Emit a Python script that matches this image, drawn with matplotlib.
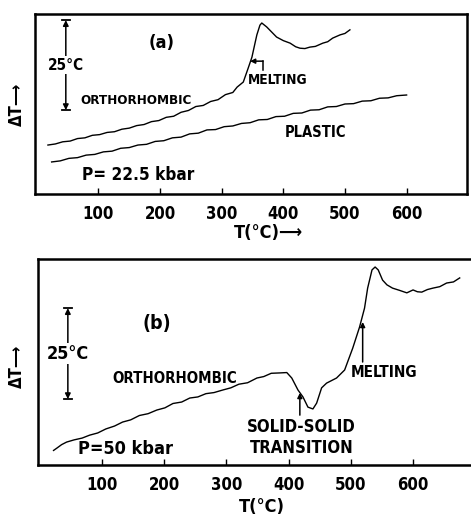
import matplotlib.pyplot as plt

plt.rcParams['font.family'] = ['DejaVu Sans Condensed', 'DejaVu Sans']
plt.rcParams['font.stretch'] = 'condensed'
plt.rcParams['font.weight'] = 'bold'

# panel (a), P = 22.5 kbar
a_ortho_T = [18, 30, 42, 54, 66, 78, 90, 102, 114, 126, 138, 150, 162, 174,
             186, 198, 210, 222, 234, 246, 258, 270, 282, 294, 306, 318, 325,
             335, 343, 349, 354, 357, 362, 365, 373, 389, 400, 411, 420, 427,
             435, 443, 452, 464, 472, 480, 492, 500, 508]
a_ortho_y = [13.6, 13.9, 14.5, 14.7, 15.4, 15.6, 16.3, 16.5, 17.1, 17.3,
             18.0, 18.3, 19.0, 19.3, 20.1, 20.4, 21.3, 21.6, 22.7, 23.2,
             24.3, 24.6, 25.7, 26.2, 27.6, 28.2, 29.7, 31.1, 35.0, 38.0,
             41.9, 44.2, 46.9, 47.5, 46.4, 43.6, 42.6, 41.9, 40.9, 40.5,
             40.4, 40.8, 41.0, 41.9, 42.3, 43.3, 44.2, 44.6, 45.6]
a_plast_T = [24, 38, 52, 66, 80, 94, 108, 122, 136, 150, 164, 178, 192, 206,
             220, 234, 248, 262, 276, 290, 304, 318, 332, 346, 360, 374, 388,
             402, 416, 430, 444, 458, 472, 486, 500, 514, 528, 542, 556, 570,
             584, 600]
a_plast_y = [8.9, 9.2, 9.9, 10.1, 10.8, 11.0, 11.7, 11.9, 12.7, 12.9, 13.6,
             13.8, 14.6, 14.8, 15.6, 15.8, 16.7, 16.9, 17.8, 17.9, 18.7, 18.9,
             19.6, 19.8, 20.6, 20.7, 21.5, 21.6, 22.4, 22.5, 23.3, 23.4, 24.2,
             24.3, 25.0, 25.1, 25.8, 25.9, 26.6, 26.7, 27.3, 27.5]

# panel (b), P = 50 kbar
b_T = [22, 27, 35, 43, 55, 68, 80, 93, 106, 120, 133, 146, 160, 174, 188,
       201, 214, 228, 241, 254, 267, 280, 294, 307, 320, 334, 349, 360, 372,
       386, 397, 405, 415, 423, 431, 439, 445, 453, 461, 477, 490, 503, 514,
       522, 527, 534, 539, 544, 551, 558, 567, 578, 590, 600, 607, 614, 623,
       632, 643, 654, 665, 675]
b_y = [4.0, 4.6, 5.6, 6.3, 6.9, 7.4, 8.2, 8.8, 9.9, 10.7, 11.8, 12.4, 13.6,
       14.1, 15.1, 15.7, 16.9, 17.3, 18.4, 18.7, 19.6, 19.9, 20.6, 21.2,
       22.2, 22.6, 23.9, 24.3, 25.2, 25.3, 25.4, 23.9, 20.6, 18.7, 15.9,
       15.4, 17.0, 21.2, 22.5, 23.9, 26.1, 32.1, 37.9, 43.1, 48.6, 53.6,
       54.4, 53.6, 50.8, 49.5, 48.6, 48.0, 47.3, 48.1, 47.6, 47.5, 48.2,
       48.6, 49.0, 50.0, 50.3, 51.4]

ticks = [100, 200, 300, 400, 500, 600]

fig = plt.figure(figsize=(4.71, 5.17), dpi=100)
ax_a = fig.add_axes([35 / 471, 1 - 194 / 517, 432 / 471, 180 / 517])
ax_b = fig.add_axes([38 / 471, 1 - 465 / 517, 436 / 471, 206 / 517])

for ax, ymax in ((ax_a, 50), (ax_b, 56.6)):
    ax.set_xlim(-3, 698)
    ax.set_ylim(0, ymax)
    ax.set_xticks(ticks)
    ax.set_xticklabels([str(t) for t in ticks], fontsize=12, fontweight='bold')
    ax.set_yticks([])
    ax.tick_params(axis='x', direction='in', length=4, width=1, pad=8)
    for s in ax.spines.values():
        s.set_linewidth(1.8)


def label(ax, x, y, s, size):
    ax.text(x, y, s, fontsize=size, fontweight='bold', va='center', ha='left')


def scale_bar(ax, x, y0, y1, size):
    ax.annotate('', xy=(x, y1), xytext=(x, y0),
                arrowprops=dict(arrowstyle='<|-|>', lw=1.1, color='k',
                                mutation_scale=8, shrinkA=0, shrinkB=0))
    ax.plot([x - 6, x + 6], [y0, y0], color='k', lw=1.3)
    ax.plot([x - 6, x + 6], [y1, y1], color='k', lw=1.3)
    ax.text(x, (y0 + y1) / 2, '25°C', fontsize=size, fontweight='bold',
            ha='center', va='center',
            bbox=dict(facecolor='white', edgecolor='none', pad=1))


# (a)
ax_a.plot(a_ortho_T, a_ortho_y, color='k', lw=1.0)
ax_a.plot(a_plast_T, a_plast_y, color='k', lw=1.0)
scale_bar(ax_a, 47, 23.3, 48.3, 11)
ax_a.text(203, 41.9, '(a)', fontsize=13, fontweight='bold', ha='center', va='center')
label(ax_a, 70, 26.1, 'ORTHORHOMBIC', 9.6)
label(ax_a, 343, 31.7, 'MELTING', 9.8)
label(ax_a, 403, 17.2, 'PLASTIC', 10.5)
label(ax_a, 73, 5.3, 'P= 22.5 kbar', 12.3)
ax_a.plot([367, 367], [34.4, 36.9], color='k', lw=1.1)
ax_a.annotate('', xy=(346, 36.9), xytext=(367, 36.9),
              arrowprops=dict(arrowstyle='-|>', lw=1.1, color='k',
                              mutation_scale=7, shrinkA=0, shrinkB=0))

# (b)
ax_b.plot(b_T, b_y, color='k', lw=1.0)
scale_bar(ax_b, 45, 18.1, 43.1, 13)
ax_b.text(188, 39, '(b)', fontsize=14, fontweight='bold', ha='center', va='center')
label(ax_b, 116, 23.9, 'ORTHORHOMBIC', 10.8)
label(ax_b, 500, 25.3, 'MELTING', 11)
label(ax_b, 333, 10.4, 'SOLID-SOLID', 12)
label(ax_b, 338, 4.7, 'TRANSITION', 12)
label(ax_b, 61, 4.4, 'P=50 kbar', 13)
for x, y0, y1 in ((519, 28.3, 39.3), (418, 13.7, 19.8)):
    ax_b.annotate('', xy=(x, y1), xytext=(x, y0),
                  arrowprops=dict(arrowstyle='-|>', lw=1.1, color='k',
                                  mutation_scale=7, shrinkA=0, shrinkB=0))

# axis titles
fig.text(268 / 471, 1 - 233 / 517, 'T(°C)⟶', fontsize=13, fontweight='bold',
         ha='center', va='center')
fig.text(262 / 471, 1 - 507 / 517, 'T(°C)', fontsize=13, fontweight='bold',
         ha='center', va='center')
for yc in (104, 366):
    fig.text(17 / 471, 1 - yc / 517, 'ΔT⟶', fontsize=12, fontweight='bold',
             ha='center', va='center', rotation=90)

fig.savefig('out.png', dpi=100)
